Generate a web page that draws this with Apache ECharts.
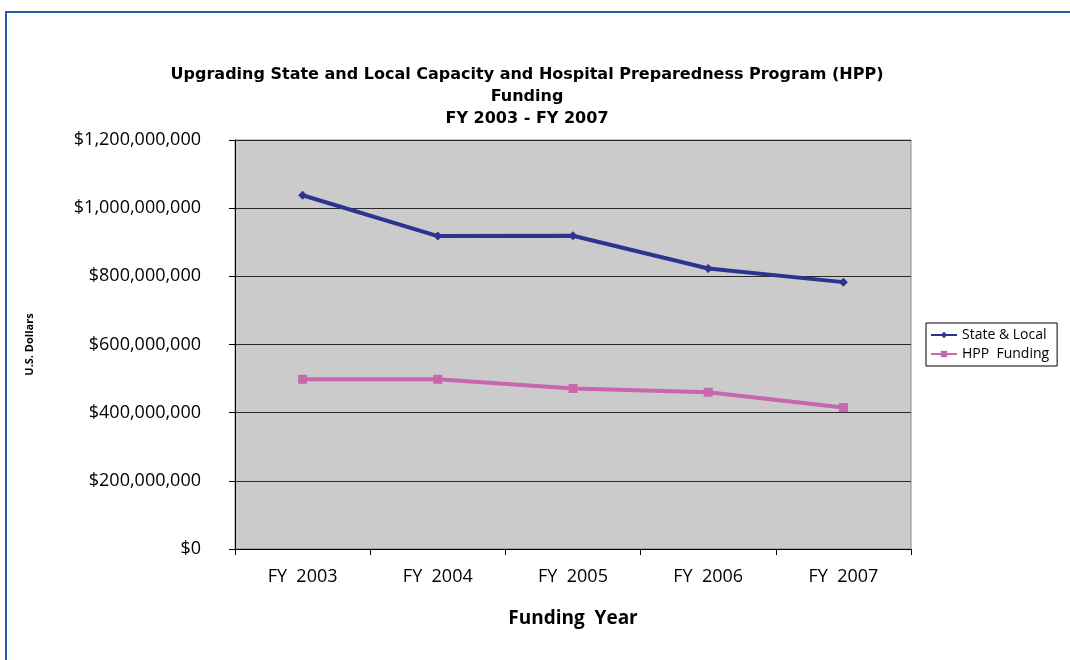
<!DOCTYPE html>
<html>
<head>
<meta charset="utf-8">
<script src="https://cdn.jsdelivr.net/npm/echarts@6/dist/echarts.min.js"></script>
<style>
  html, body { margin: 0; padding: 0; background: #fff; }
  #frame { position: absolute; left: 5px; top: 11px; width: 1065px; height: 649px;
           border-top: 2px solid #1F5CA6; border-left: 2px solid #1F5CA6; box-sizing: border-box; }
  #chart { position: absolute; left: 0; top: 0; width: 1070px; height: 660px; }
</style>
</head>
<body>
<div id="frame"></div>
<div id="chart"></div>
<script>
// values, in dollars
const years = ['FY  2003', 'FY  2004', 'FY  2005', 'FY  2006', 'FY  2007']
const stateLocal = [1038000000, 918000000, 919000000, 823000000, 783000000]
const hppFunding = [498000000, 498000000, 471000000, 460000000, 415000000]

const font = '"Open Sans", "DejaVu Sans", sans-serif'
var mychart = echarts.init(document.getElementById('chart'))

function money(v) {
  return '$' + v.toString().replace(/\B(?=(\d{3})+(?!\d))/g, ',')
}

const option = {
  animation: false,
  textStyle: { fontFamily: font },
  title: {
    text: 'Upgrading State and Local Capacity and Hospital Preparedness Program (HPP)\nFunding\nFY 2003 - FY 2007',
    left: 522,
    textAlign: 'center',
    top: 59,
    textStyle: { fontSize: 16, fontWeight: 'bold', color: '#000', lineHeight: 22, fontFamily: '"DejaVu Sans", sans-serif' }
  },
  legend: {
    orient: 'vertical',
    left: 926,
    top: 323,
    itemWidth: 26,
    itemHeight: 8,
    itemGap: 5,
    padding: [5, 8, 5, 4],
    borderColor: '#000',
    borderWidth: 1,
    textStyle: { fontSize: 14, color: '#000', fontFamily: font },
    data: ['State & Local', 'HPP  Funding']
  },
  grid: {
    left: 235, right: 159, top: 140, bottom: 111,
    show: true, backgroundColor: '#CBCBCB', borderColor: '#8a8a8a', borderWidth: 1
  },
  xAxis: {
    type: 'category',
    data: years,
    boundaryGap: true,
    name: 'Funding  Year',
    nameLocation: 'middle',
    nameGap: 60,
    nameTextStyle: { fontSize: 19, fontWeight: 'bold', color: '#000' },
    axisLine: { lineStyle: { color: '#000', width: 1 } },
    axisTick: { show: true, length: 6, lineStyle: { color: '#000' } },
    axisLabel: { fontSize: 18, color: '#000', margin: 19 }
  },
  yAxis: {
    type: 'value',
    min: 0,
    max: 1200000000,
    interval: 200000000,
    name: 'U.S. Dollars',
    nameLocation: 'middle',
    nameRotate: 90,
    nameGap: 200,
    nameTextStyle: { fontSize: 11, fontWeight: 'bold', color: '#000' },
    axisLine: { show: true, lineStyle: { color: '#000', width: 1 } },
    axisTick: { show: true, length: 6, lineStyle: { color: '#000' } },
    axisLabel: { fontSize: 18, color: '#000', margin: 34, formatter: money },
    splitLine: { lineStyle: { color: '#2a2a2a', width: 1 } }
  },
  series: [
    {
      name: 'State & Local',
      type: 'line',
      data: stateLocal,
      symbol: 'diamond',
      symbolSize: 9,
      color: '#2B3590',
      lineStyle: { width: 4, color: '#2B3590' },
      itemStyle: { color: '#2B3590' }
    },
    {
      name: 'HPP  Funding',
      type: 'line',
      data: hppFunding,
      symbol: 'rect',
      symbolSize: 9,
      color: '#C866AE',
      lineStyle: { width: 4, color: '#C866AE' },
      itemStyle: { color: '#C866AE' }
    }
  ]
}

mychart.setOption(option)
</script>
</body>
</html>
